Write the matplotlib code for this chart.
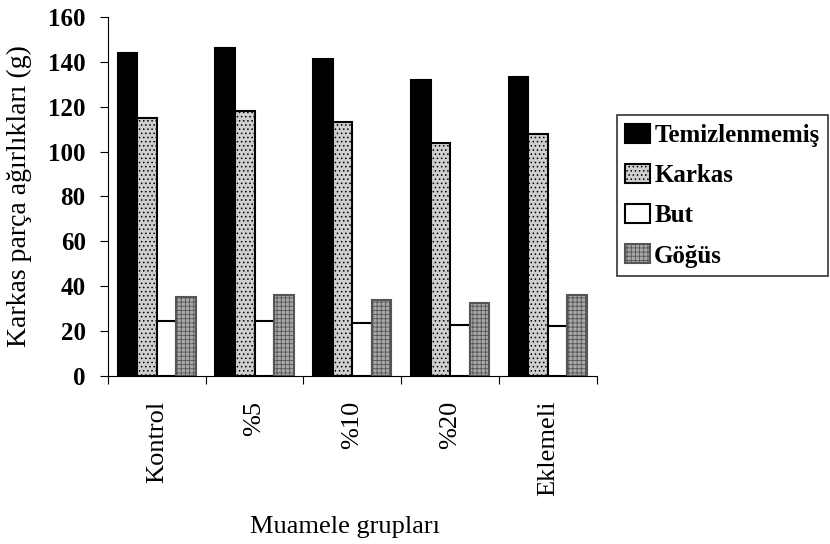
import matplotlib
matplotlib.use("Agg")
import matplotlib.pyplot as plt
import numpy as np

# Muamele grupları ve karkas parça ağırlıkları (g)
gruplar = ["Kontrol", "%5", "%10", "%20", "Eklemeli"]
temizlenmemis = [144, 146, 141, 132, 133]
karkas = [115, 118, 113, 104, 108]
but = [24.5, 24.5, 23.5, 22.5, 22.3]
gogus = [35, 36, 34, 32.5, 36]

#### -------- グラフ設定 -------- ####
plt.rcParams["font.family"] = ["Liberation Serif", "DejaVu Serif"]
plt.rcParams["hatch.linewidth"] = 0.6

fig = plt.figure(figsize=(8.3, 5.44), dpi=100)
ax = fig.add_axes([0.130, 0.309, 0.589, 0.660])

x = np.arange(len(gruplar))
w = 0.2
seriler = [
    ("Temizlenmemiş", temizlenmemis, dict(facecolor="black", edgecolor="black")),
    ("Karkas", karkas, dict(facecolor="#cfcfcf", edgecolor="black", hatch="....")),
    ("But", but, dict(facecolor="white", edgecolor="black")),
    ("Göğüs", gogus, dict(facecolor="#a8a8a8", edgecolor="#555555", hatch="++++")),
]
for i, (ad, degerler, stil) in enumerate(seriler):
    ax.bar(x - 0.3 + i * w, degerler, width=w, linewidth=1.5, label=ad, **stil)

ax.set_xlim(-0.5, len(gruplar) - 0.5)
ax.set_ylim(0, 160)
ax.set_yticks(range(0, 161, 20))
ax.tick_params(axis="y", labelsize=18, direction="out", length=6, pad=10)
for lbl in ax.get_yticklabels():
    lbl.set_fontweight("bold")

# kategori sınırlarında tikler
ax.set_xticks(np.arange(len(gruplar) + 1) - 0.5)
ax.set_xticklabels([])
ax.set_xticks(x, minor=True)
ax.set_xticklabels(gruplar, minor=True, rotation=90, fontsize=19)
ax.tick_params(axis="x", which="minor", length=0, pad=18)
ax.tick_params(axis="x", which="major", direction="out", length=6)

ax.spines["top"].set_visible(False)
ax.spines["right"].set_visible(False)

ax.set_ylabel("Karkas parça ağırlıkları (g)", fontsize=20)
ax.yaxis.set_label_coords(-0.155, 0.5)
fig.text(0.416, 0.031, "Muamele grupları", fontsize=19, ha="center", va="center")

leg = fig.legend(
    loc="upper left",
    bbox_to_anchor=(0.743, 0.789),
    prop={"weight": "bold", "size": 18},
    frameon=True,
    fancybox=False,
    edgecolor="black",
    handlelength=1.0,
    handleheight=0.8,
    handletextpad=0.15,
    labelspacing=0.68,
    borderpad=0.35,
    borderaxespad=0,
)
leg.get_frame().set_linewidth(1.2)

plt.savefig("out.png", dpi=100)
